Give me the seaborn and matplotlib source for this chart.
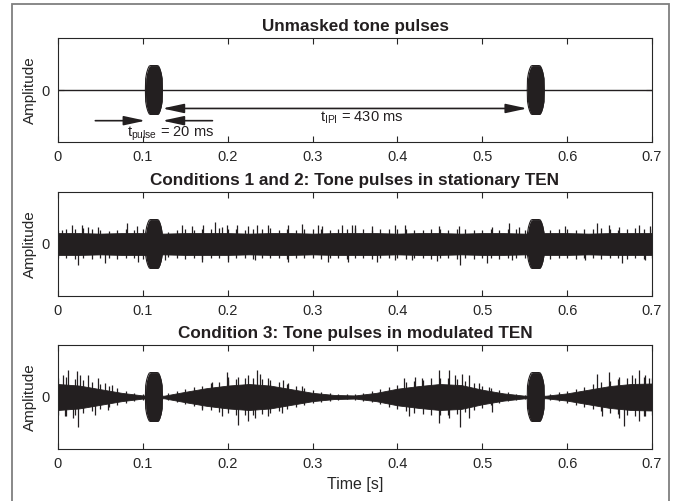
import numpy as np
import pandas as pd
import matplotlib
matplotlib.use("Agg")
import matplotlib.pyplot as plt
from matplotlib.patches import Rectangle
import seaborn as sns

# tone pulses (onsets in s, envelope)
PULSE_ONSETS = [0.103, 0.553]
PULSE_ENV_MS = [0, 0.3, 1.5, 3, 4.5, 6, 14, 15.5, 17, 18.5, 19.7, 20]
PULSE_ENV_AMP = [0.0, 0.22, 0.33, 0.41, 0.46, 0.47, 0.47, 0.46, 0.41, 0.33, 0.22, 0.0]

SILENCE_T = [0.0, 0.7]
SILENCE_AMP = [0.0, 0.0]

# solid core of the noise, sampled every 25 ms
ENV_T = [0.0, 0.025, 0.05, 0.075, 0.1, 0.125, 0.15, 0.175, 0.2, 0.225, 0.25,
         0.275, 0.3, 0.325, 0.35, 0.375, 0.4, 0.425, 0.45, 0.475, 0.5, 0.525,
         0.55, 0.575, 0.6, 0.625, 0.65, 0.675, 0.7]
STAT_ENV = [0.21, 0.21, 0.20, 0.21, 0.21, 0.20, 0.21, 0.21, 0.21, 0.20, 0.21,
            0.21, 0.20, 0.21, 0.21, 0.21, 0.20, 0.21, 0.21, 0.20, 0.21, 0.21,
            0.20, 0.21, 0.21, 0.20, 0.21, 0.21, 0.21]
MOD_ENV = [0.25, 0.22, 0.15, 0.08, 0.03, 0.025, 0.10, 0.17, 0.22, 0.25, 0.22,
           0.15, 0.08, 0.04, 0.03, 0.08, 0.16, 0.21, 0.25, 0.23, 0.14, 0.07,
           0.025, 0.025, 0.07, 0.14, 0.21, 0.25, 0.26]

# ragged fringe of the noise band, every 10 ms (upper / lower)
STAT_FR_UP = [0.27, 0.29, 0.28, 0.30, 0.28, 0.27, 0.25, 0.26, 0.29, 0.27,
              0.28, 0.26, 0.26, 0.23, 0.26, 0.28, 0.27, 0.29, 0.28, 0.30,
              0.28, 0.29, 0.27, 0.29, 0.28, 0.30, 0.27, 0.28, 0.27, 0.29,
              0.28, 0.29, 0.27, 0.29, 0.28, 0.30, 0.28, 0.27, 0.29, 0.28,
              0.29, 0.28, 0.27, 0.26, 0.28, 0.29, 0.27, 0.28, 0.29, 0.27,
              0.26, 0.28, 0.27, 0.29, 0.28, 0.27, 0.26, 0.27, 0.26, 0.29,
              0.28, 0.27, 0.29, 0.28, 0.30, 0.28, 0.27, 0.29, 0.30, 0.29, 0.28]
STAT_FR_DN = [0.26, 0.27, 0.29, 0.27, 0.28, 0.26, 0.27, 0.28, 0.26, 0.27,
              0.28, 0.26, 0.27, 0.25, 0.27, 0.28, 0.26, 0.28, 0.27, 0.26,
              0.28, 0.27, 0.26, 0.28, 0.27, 0.26, 0.27, 0.28, 0.27, 0.26,
              0.27, 0.28, 0.26, 0.27, 0.28, 0.27, 0.26, 0.28, 0.27, 0.26,
              0.27, 0.28, 0.27, 0.26, 0.28, 0.27, 0.26, 0.28, 0.27, 0.29,
              0.26, 0.27, 0.28, 0.27, 0.26, 0.27, 0.26, 0.27, 0.28, 0.26,
              0.27, 0.28, 0.26, 0.27, 0.28, 0.26, 0.27, 0.29, 0.27, 0.28, 0.27]
MOD_FR_UP = [0.36, 0.38, 0.35, 0.33, 0.28, 0.25, 0.21, 0.17, 0.12, 0.08,
             0.05, 0.03, 0.04, 0.07, 0.11, 0.15, 0.19, 0.22, 0.26, 0.29,
             0.33, 0.35, 0.36, 0.37, 0.35, 0.32, 0.29, 0.25, 0.21, 0.17,
             0.13, 0.10, 0.08, 0.06, 0.05, 0.05, 0.08, 0.11, 0.15, 0.20,
             0.24, 0.28, 0.31, 0.33, 0.36, 0.37, 0.36, 0.34, 0.31, 0.26,
             0.22, 0.17, 0.13, 0.09, 0.06, 0.04, 0.03, 0.04, 0.05, 0.09,
             0.12, 0.16, 0.20, 0.25, 0.28, 0.31, 0.34, 0.36, 0.37, 0.38, 0.37]
MOD_FR_DN = [0.34, 0.36, 0.35, 0.31, 0.27, 0.23, 0.20, 0.16, 0.11, 0.07,
             0.05, 0.03, 0.04, 0.06, 0.10, 0.14, 0.18, 0.21, 0.25, 0.28,
             0.31, 0.34, 0.35, 0.35, 0.33, 0.31, 0.27, 0.23, 0.20, 0.16,
             0.12, 0.09, 0.07, 0.05, 0.04, 0.05, 0.07, 0.10, 0.14, 0.19,
             0.23, 0.27, 0.30, 0.32, 0.35, 0.35, 0.34, 0.33, 0.29, 0.25,
             0.21, 0.16, 0.12, 0.08, 0.05, 0.04, 0.03, 0.04, 0.05, 0.08,
             0.11, 0.15, 0.19, 0.23, 0.27, 0.30, 0.33, 0.35, 0.36, 0.36, 0.35]

# peaks sticking far out of the noise band (time, amplitude)
STAT_UP_T = [0.0043, 0.0161, 0.0279, 0.0357, 0.0475, 0.081, 0.0927, 0.1458,
             0.1575, 0.1713, 0.185, 0.1929, 0.1988, 0.2106, 0.2243, 0.2341,
             0.2478, 0.2714, 0.287, 0.3068, 0.3107, 0.3343, 0.3461, 0.3504,
             0.37, 0.3975, 0.4093, 0.4486, 0.4722, 0.5114, 0.5311, 0.5429,
             0.5979, 0.6352, 0.6489, 0.6607, 0.6843, 0.6981]
STAT_UP_A = [0.27, 0.36, 0.37, 0.32, 0.32, 0.40, 0.34, 0.37, 0.34, 0.36, 0.42,
             0.32, 0.36, 0.37, 0.34, 0.36, 0.37, 0.36, 0.39, 0.36, 0.34, 0.36,
             0.36, 0.37, 0.34, 0.36, 0.37, 0.34, 0.34, 0.32, 0.41, 0.32, 0.34,
             0.41, 0.36, 0.32, 0.36, 0.34]
STAT_DN_T = [0.024, 0.0554, 0.0947, 0.1261, 0.1693, 0.2007, 0.2321, 0.2714,
             0.3186, 0.3422, 0.3759, 0.3975, 0.4171, 0.4466, 0.4741, 0.5055,
             0.535, 0.6214, 0.6646, 0.6921]
STAT_DN_A = [0.41, 0.36, 0.34, 0.31, 0.34, 0.34, 0.31, 0.34, 0.34, 0.34, 0.34,
             0.31, 0.31, 0.33, 0.40, 0.36, 0.31, 0.31, 0.36, 0.31]

MOD_UP_T = [0.0063, 0.0122, 0.022, 0.0259, 0.0357, 0.0475, 0.0554, 0.0632,
            0.1811, 0.1988, 0.2007, 0.2125, 0.2243, 0.2341, 0.238, 0.2478,
            0.2655, 0.2714, 0.287, 0.4073, 0.4211, 0.4289, 0.4486, 0.4604,
            0.4682, 0.4761, 0.4839, 0.4957, 0.5075, 0.6352, 0.6489, 0.6607,
            0.6764, 0.6843, 0.6921, 0.6961]
MOD_UP_A = [0.42, 0.51, 0.50, 0.42, 0.43, 0.36, 0.26, 0.23, 0.29, 0.48, 0.39,
            0.39, 0.42, 0.51, 0.45, 0.36, 0.32, 0.26, 0.22, 0.36, 0.39, 0.36,
            0.51, 0.51, 0.42, 0.45, 0.42, 0.26, 0.20, 0.45, 0.48, 0.39, 0.42,
            0.51, 0.42, 0.36]
MOD_DN_T = [0.0083, 0.0181, 0.024, 0.0436, 0.0593, 0.1693, 0.1929, 0.2125,
            0.2243, 0.2321, 0.2478, 0.2636, 0.4132, 0.4486, 0.4604, 0.4741,
            0.4839, 0.5114, 0.641, 0.6607, 0.6666, 0.6843, 0.6921]
MOD_DN_A = [0.37, 0.41, 0.58, 0.34, 0.25, 0.25, 0.37, 0.53, 0.47, 0.41, 0.37,
            0.31, 0.37, 0.50, 0.41, 0.58, 0.41, 0.28, 0.37, 0.41, 0.55, 0.47,
            0.37]

TITLES = ["Unmasked tone pulses",
          "Conditions 1 and 2: Tone pulses in stationary TEN",
          "Condition 3: Tone pulses in modulated TEN"]
XTICKS = [0, 0.1, 0.2, 0.3, 0.4, 0.5, 0.6, 0.7]
XTICKLABELS = ["0", "0.1", "0.2", "0.3", "0.4", "0.5", "0.6", "0.7"]

FRINGE_T = np.linspace(0, 0.7, 71)

INK = "#231f20"
AXC = "#262626"

sns.set_style("ticks")
plt.rcParams["font.family"] = ["Liberation Sans", "DejaVu Sans"]
plt.rcParams["mathtext.fontset"] = "custom"
plt.rcParams["mathtext.rm"] = "Liberation Sans"


def draw_pulses(ax):
    for onset in PULSE_ONSETS:
        df = pd.DataFrame({"t": [onset + ms / 1000 for ms in PULSE_ENV_MS],
                           "a": PULSE_ENV_AMP})
        ax.fill_between(df["t"], -df["a"], df["a"], color=INK, lw=0)
        sns.lineplot(data=df, x="t", y="a", ax=ax, color=INK, lw=0.8)
        sns.lineplot(x=df["t"], y=-df["a"], ax=ax, color=INK, lw=0.8)


def draw_noise(ax, env, fr_up, fr_dn, up_t, up_a, dn_t, dn_a):
    env = np.array(env)
    ax.fill_between(ENV_T, -env, env, color=INK, lw=0.6, edgecolor=INK)
    ax.vlines(FRINGE_T, -np.array(fr_dn), fr_up, color=INK, lw=0.9)
    ax.vlines(up_t, 0, up_a, color=INK, lw=0.9)
    ax.vlines(dn_t, 0, -np.array(dn_a), color=INK, lw=0.9)


fig = plt.figure(figsize=(6.76, 5.01), dpi=100)
fig.patches.append(Rectangle((0.0178, -0.02), 0.9718, 1.012, transform=fig.transFigure,
                             fill=False, edgecolor="#7f7f7f", lw=1.3))

tops = [38, 192, 345]
axes = []
for top in tops:
    ax = fig.add_axes([58 / 676, 1 - (top + 104) / 501, 594 / 676, 104 / 501])
    axes.append(ax)

ax1, ax2, ax3 = axes

sns.lineplot(x=SILENCE_T, y=SILENCE_AMP, ax=ax1, color=INK, lw=1.0)
draw_pulses(ax1)

draw_noise(ax2, STAT_ENV, STAT_FR_UP, STAT_FR_DN, STAT_UP_T, STAT_UP_A, STAT_DN_T, STAT_DN_A)
draw_pulses(ax2)

draw_noise(ax3, MOD_ENV, MOD_FR_UP, MOD_FR_DN, MOD_UP_T, MOD_UP_A, MOD_DN_T, MOD_DN_A)
draw_pulses(ax3)

# annotation arrows in the top panel
arrow_kw = dict(arrowstyle="-|>,head_length=1.3,head_width=0.28", color=INK,
                lw=1.2, mutation_scale=10, shrinkA=0, shrinkB=0)
p1_end = PULSE_ONSETS[0] + 0.020
ax1.annotate("", xy=(PULSE_ONSETS[1], -0.355), xytext=(p1_end, -0.355),
             arrowprops=dict(arrow_kw, arrowstyle="<|-|>,head_length=1.3,head_width=0.28"))
ax1.annotate("", xy=(PULSE_ONSETS[0], -0.59), xytext=(0.044, -0.59), arrowprops=arrow_kw)
ax1.annotate("", xy=(p1_end, -0.59), xytext=(0.182, -0.59), arrowprops=arrow_kw)
ax1.text(0.309, -0.60, r"$\mathregular{t_{IPI}}$ = 430 ms", fontsize=10.5,
         va="baseline", ha="left", color=INK)
ax1.text(0.0815, -0.90, r"$\mathregular{t_{pulse}}$ = 20 ms", fontsize=10.5,
         va="baseline", ha="left", color=INK)

for ax, title in zip(axes, TITLES):
    ax.set_xlim(0, 0.7)
    ax.set_ylim(-1, 1)
    ax.set_xticks(XTICKS)
    ax.set_xticklabels(XTICKLABELS)
    ax.set_yticks([0])
    ax.set_yticklabels(["0"])
    ax.set_xlabel("")
    ax.set_ylabel("Amplitude", fontsize=11, color=AXC, labelpad=3)
    ax.set_title(title, fontsize=12.3, fontweight="bold", color=INK, pad=5)
    ax.tick_params(direction="in", top=True, right=True, length=4, width=0.8,
                   colors=AXC, labelsize=10.5, pad=6)
    for sp in ax.spines.values():
        sp.set_visible(True)
        sp.set_color(AXC)
        sp.set_linewidth(0.8)

ax3.set_xlabel("Time [s]", fontsize=11.5, color=AXC, labelpad=4)

fig.savefig("out.png", dpi=100)
